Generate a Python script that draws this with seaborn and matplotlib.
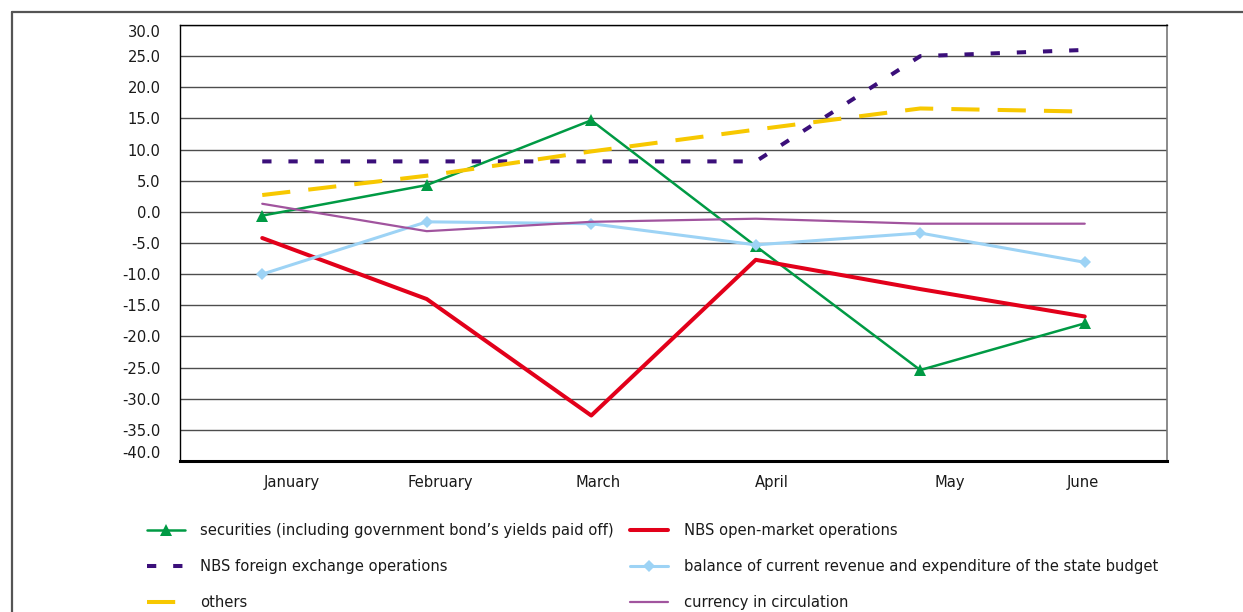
import matplotlib
matplotlib.use("Agg")
import matplotlib.pyplot as plt
import seaborn as sns
from matplotlib.lines import Line2D
from matplotlib import font_manager as fm

# ---- data ----
months = ["January", "February", "March", "April", "May", "June"]
securities = [-0.6, 4.3, 14.7, -5.5, -25.4, -17.9]
fx_operations = [8.1, 8.1, 8.1, 8.1, 25.0, 26.0]
others = [2.7, 5.8, 9.7, 13.2, 16.6, 16.1]
open_market = [-4.2, -14.0, -32.7, -7.7, -12.4, -16.8]
budget_balance = [-10.0, -1.6, -1.9, -5.3, -3.4, -8.1]
currency = [1.3, -3.1, -1.6, -1.1, -1.9, -1.9]
y_ticks = [30, 25, 20, 15, 10, 5, 0, -5, -10, -15, -20, -25, -30, -35, -40]

labels = [
    "securities (including government bond\u2019s yields paid off)",
    "NBS foreign exchange operations",
    "others",
    "NBS open-market operations",
    "balance of current revenue and expenditure of the state budget",
    "currency in circulation",
]

sns.set_theme(style="white")
names = {f.name for f in fm.fontManager.ttflist}
cond = [f for f in fm.fontManager.ttflist if "Condensed" in f.fname or "Narrow" in f.fname]
if "Liberation Sans Narrow" in names:
    plt.rcParams["font.family"] = ["Liberation Sans Narrow", "DejaVu Sans"]
    FS = 12.5
elif any("DejaVuSansCondensed" in f.fname for f in cond):
    plt.rcParams["font.family"] = ["DejaVu Sans"]
    plt.rcParams["font.stretch"] = "condensed"
    FS = 11.8
else:
    plt.rcParams["font.family"] = ["DejaVu Sans"]
    FS = 11.0

W, H = 1243, 612
fig = plt.figure(figsize=(W / 100, H / 100), dpi=100)
ax = fig.add_axes([180 / W, 1 - 461 / H, (1167 - 180) / W, (461 - 25) / H])

x = list(range(len(months)))

styles = [
    (securities, dict(color="#009A44", linewidth=1.8, marker="^", markersize=9,
                      markeredgewidth=0, linestyle="-")),
    (fx_operations, dict(color="#3B0F7A", linewidth=2.9, linestyle=(0, (2.3, 4.2)),
                         dash_capstyle="butt")),
    (others, dict(color="#F7C800", linewidth=2.9, linestyle=(0, (7.0, 4.5)),
                  dash_capstyle="butt")),
    (open_market, dict(color="#E2001A", linewidth=2.9, linestyle="-")),
    (budget_balance, dict(color="#9DD3F5", linewidth=2.2, marker="D", markersize=6,
                          markeredgewidth=0, linestyle="-")),
    (currency, dict(color="#A1549E", linewidth=1.6, linestyle="-")),
]

for (vals, kw), lab in zip(styles, labels):
    sns.lineplot(x=x, y=vals, ax=ax, label=lab, **kw)

handles, labs = ax.get_legend_handles_labels()
if ax.get_legend() is not None:
    ax.get_legend().remove()

ax.set_xlim(-0.5, 5.5)
ax.set_ylim(-40, 30)
ax.set_yticks(y_ticks)
ax.set_yticklabels([f"{v:.1f}" for v in y_ticks])
ax.yaxis.grid(True, color="#4d4d4d", linewidth=1.0)
ax.xaxis.grid(False)
ax.set_axisbelow(True)

# month labels (offset as in the reference layout)
label_offsets = [0.18, 0.08, 0.04, 0.10, 0.18, -0.01]
ax.set_xticks([i + o for i, o in zip(x, label_offsets)])
ax.set_xticklabels(months)
ax.tick_params(axis="x", length=0, pad=10, labelsize=FS, colors="#1a1a1a")
ax.tick_params(axis="y", length=0, pad=14, labelsize=FS, colors="#1a1a1a")
ax.set_xlabel("")
ax.set_ylabel("")

ylabs = ax.get_yticklabels()
ylabs[0].set_va("top")
ylabs[-1].set_va("bottom")

for side in ["top", "left"]:
    ax.spines[side].set_color("black")
    ax.spines[side].set_linewidth(1.0)
ax.spines["right"].set_color("#777777")
ax.spines["right"].set_linewidth(1.2)
ax.spines["bottom"].set_color("black")
ax.spines["bottom"].set_linewidth(2.2)

# outer frame lines
fig.add_artist(Line2D([12 / W, 1], [1 - 12 / H, 1 - 12 / H], transform=fig.transFigure,
                      color="#555555", linewidth=1.6))
fig.add_artist(Line2D([12 / W, 12 / W], [0, 1 - 12 / H], transform=fig.transFigure,
                      color="#555555", linewidth=1.6))

fig.legend(handles, labs, ncol=2, loc="upper left",
           bbox_to_anchor=(147 / W, 1 - 523.5 / H), frameon=False,
           borderaxespad=0, borderpad=0, fontsize=FS,
           handlelength=2.3, handletextpad=0.95, columnspacing=1.0,
           labelspacing=1.28, labelcolor="#1a1a1a")

fig.savefig("out.png", dpi=100)
